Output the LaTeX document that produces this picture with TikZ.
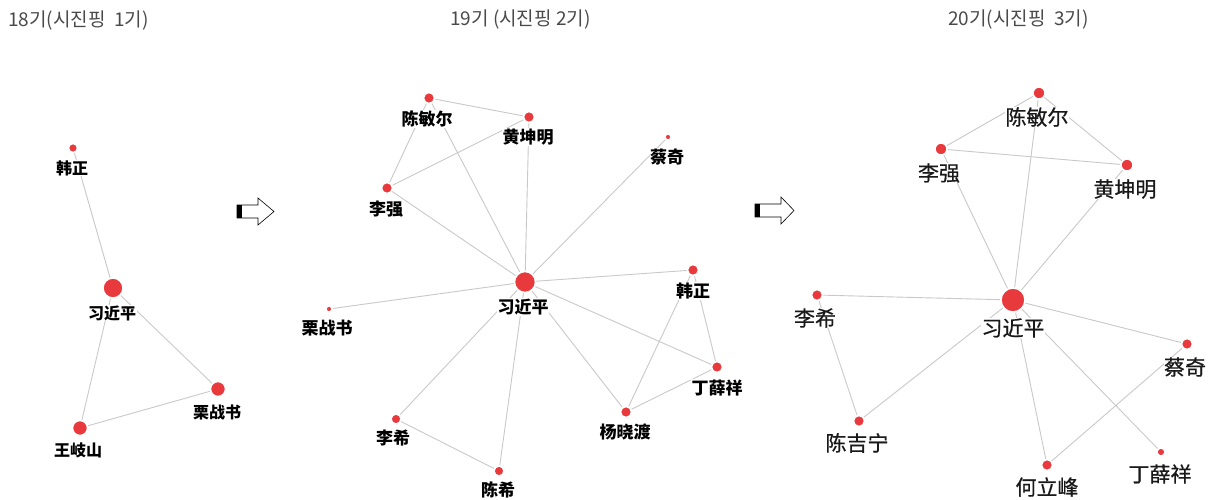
\documentclass[tikz,border=0pt]{standalone}
\usepackage{fontspec}
\newfontfamily\cjk{Noto Sans CJK SC}
\newfontfamily\cjkm{Noto Sans CJK SC}[FakeBold=0.6]
\newfontfamily\kr{Noto Sans CJK KR}
\usetikzlibrary{backgrounds}
\definecolor{dotred}{HTML}{E8393D}
\definecolor{edgegray}{HTML}{C9C9C9}
\definecolor{titlegray}{HTML}{4A4A4A}
\tikzset{
  x=1pt, y=-1pt,
  dot/.style={circle, fill=dotred, draw=white, line width=1.5pt, inner sep=0pt, minimum size=#1},
  lab/.style={font=\cjk\bfseries\fontsize{16}{16}\selectfont, inner sep=0.5pt, fill=white},
  labb/.style={font=\cjk\bfseries\fontsize{17}{17}\selectfont, inner sep=0.5pt, fill=white},
  labc/.style={font=\cjkm\fontsize{21}{21}\selectfont, text=black!90, inner sep=0.5pt, fill=white},
  ttl/.style={font=\kr\fontsize{19}{19}\selectfont, text=titlegray, anchor=west, inner sep=0pt},
  edge/.style={draw=edgegray, line width=0.9pt},
  blockarrow/.style={draw=black, line width=0.6pt, fill=white, line join=miter}
}
\begin{document}
\begin{tikzpicture}
\useasboundingbox (0,0) rectangle (1216,499);
\begin{pgfonlayer}{background}
\fill[white] (0,0) rectangle (1216,499);
\end{pgfonlayer}
% titles
\node[ttl] (t1) at (8,21) {18기(시진핑\ \ 1기)};
\node[ttl] (t2) at (450,20) {19기 (시진핑 2기)};
\node[ttl] (t3) at (948,20) {20기(시진핑\ \ 3기)};
% ---------- panel 1 ----------
\node[dot=9pt] (a-hz) at (73,148) {};
\node[dot=20pt] (a-xi) at (113,288) {};
\node[dot=15pt] (a-li) at (218,389) {};
\node[dot=15pt] (a-wq) at (80,428) {};
\node[lab] (al-hz) at (72,168) {韩正};
\node[lab] (al-xi) at (112,313) {习近平};
\node[lab] (al-li) at (217,412) {栗战书};
\node[lab] (al-wq) at (78,450) {王岐山};
\begin{pgfonlayer}{background}
\draw[edge] (a-hz) -- (a-xi);
\draw[edge] (a-xi) -- (a-wq);
\draw[edge] (a-xi) -- (a-li);
\draw[edge] (a-wq) -- (a-li);
\end{pgfonlayer}
% arrow 1
\draw[blockarrow] (237,205) -- (258,205) -- (258,198) -- (274,211.5) -- (258,225) -- (258,218) -- (237,218) -- cycle;
\fill[black] (237,205) rectangle (242,218);
% ---------- panel 2 ----------
\node[dot=11pt] (b-cm) at (429,98) {};
\node[dot=11pt] (b-hk) at (529,117) {};
\node[dot=6pt] (b-cq) at (668,137) {};
\node[dot=11pt] (b-lq) at (387,188) {};
\node[dot=21pt] (b-xi) at (525,282) {};
\node[dot=11pt] (b-hz) at (693,270) {};
\node[dot=6pt] (b-lz) at (329,309) {};
\node[dot=11pt] (b-dx) at (717,367) {};
\node[dot=11pt] (b-yx) at (626,412) {};
\node[dot=10pt] (b-lx) at (396,419) {};
\node[dot=10pt] (b-cx) at (499,471) {};
\node[labb] (bl-cm) at (427,119) {陈敏尔};
\node[labb] (bl-hk) at (528,137) {黄坤明};
\node[labb] (bl-cq) at (667,157) {蔡奇};
\node[labb] (bl-lq) at (386,209) {李强};
\node[labb] (bl-xi) at (523,307) {习近平};
\node[labb] (bl-hz) at (693,291) {韩正};
\node[labb] (bl-lz) at (327,328) {栗战书};
\node[labb] (bl-dx) at (717,388) {丁薛祥};
\node[labb] (bl-yx) at (625,432) {杨晓渡};
\node[labb] (bl-lx) at (393,438) {李希};
\node[labb] (bl-cx) at (498,490) {陈希};
\begin{pgfonlayer}{background}
\draw[edge] (b-cm) -- (b-hk);
\draw[edge] (b-cm) -- (b-lq);
\draw[edge] (b-cm) -- (b-xi);
\draw[edge] (b-hk) -- (b-lq);
\draw[edge] (b-hk) -- (b-xi);
\draw[edge] (b-cq) -- (b-xi);
\draw[edge] (b-lq) -- (b-xi);
\draw[edge] (b-xi) -- (b-hz);
\draw[edge] (b-xi) -- (b-lz);
\draw[edge] (b-xi) -- (b-dx);
\draw[edge] (b-xi) -- (b-yx);
\draw[edge] (b-xi) -- (b-lx);
\draw[edge] (b-xi) -- (b-cx);
\draw[edge] (b-hz) -- (b-dx);
\draw[edge] (b-hz) -- (b-yx);
\draw[edge] (b-dx) -- (b-yx);
\draw[edge] (b-lx) -- (b-cx);
\end{pgfonlayer}
% arrow 2
\draw[blockarrow] (755,204) -- (781,204) -- (781,197) -- (794,210.5) -- (781,224) -- (781,217) -- (755,217) -- cycle;
\fill[black] (755,204) rectangle (760,217);
% ---------- panel 3 ----------
\node[dot=12pt] (c-cm) at (1039,93) {};
\node[dot=12pt] (c-lq) at (941,149) {};
\node[dot=12pt] (c-hk) at (1127,165) {};
\node[dot=24pt] (c-xi) at (1013,300) {};
\node[dot=11pt] (c-lx) at (817,295) {};
\node[dot=11pt] (c-cq) at (1187,344) {};
\node[dot=11pt] (c-cj) at (859,421) {};
\node[dot=11pt] (c-hl) at (1047,465) {};
\node[dot=8pt] (c-dx) at (1161,452) {};
\node[labc] (cl-cm) at (1037,117) {陈敏尔};
\node[labc] (cl-lq) at (939,173) {李强};
\node[labc] (cl-hk) at (1125,189) {黄坤明};
\node[labc] (cl-xi) at (1013,328) {习近平};
\node[labc] (cl-lx) at (815,318) {李希};
\node[labc] (cl-cq) at (1185,367) {蔡奇};
\node[labc] (cl-cj) at (857,443) {陈吉宁};
\node[labc] (cl-hl) at (1047,487) {何立峰};
\node[labc] (cl-dx) at (1160,474) {丁薛祥};
\begin{pgfonlayer}{background}
\draw[edge] (c-cm) -- (c-lq);
\draw[edge] (c-cm) -- (c-hk);
\draw[edge] (c-cm) -- (c-xi);
\draw[edge] (c-lq) -- (c-hk);
\draw[edge] (c-lq) -- (c-xi);
\draw[edge] (c-hk) -- (c-xi);
\draw[edge] (c-xi) -- (c-lx);
\draw[edge] (c-xi) -- (c-cj);
\draw[edge] (c-xi) -- (c-cq);
\draw[edge] (c-xi) -- (c-hl);
\draw[edge] (c-xi) -- (c-dx);
\draw[edge] (c-lx) -- (c-cj);
\draw[edge] (c-cq) -- (c-hl);
\end{pgfonlayer}
\end{tikzpicture}
\end{document}
